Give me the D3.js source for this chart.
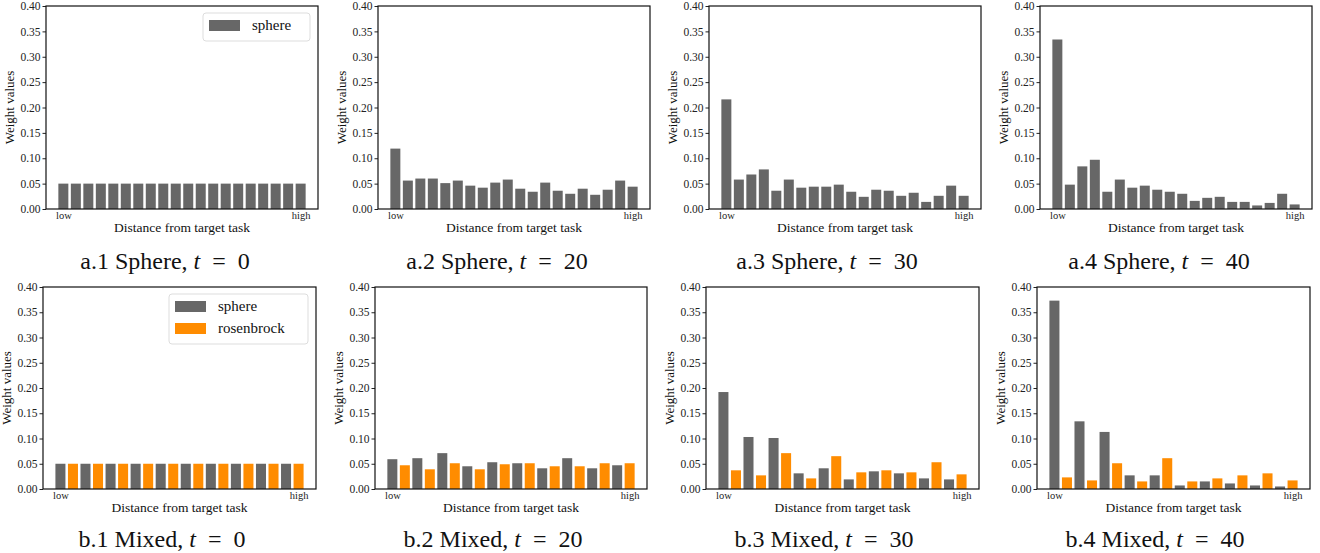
<!DOCTYPE html>
<html>
<head>
<meta charset="utf-8">
<script src="https://cdn.jsdelivr.net/npm/d3@7"></script>
<style>
  body { margin: 0; background: #fff; }
  svg { display: block; }
  svg text { font-family: "Liberation Serif", "DejaVu Serif", serif; }
  .tick text { font-size: 11.5px; fill: #222; }
  .tick line { stroke: #222; }
</style>
</head>
<body>
<svg width="1320" height="553"></svg>
<script>
  // positions along the distance axis (low -> high)
  const positions = d3.range(20);
  const yTicks = [0, 0.05, 0.10, 0.15, 0.20, 0.25, 0.30, 0.35, 0.40];

  // sphere only
  const sphereT0  = [0.05,0.05,0.05,0.05,0.05,0.05,0.05,0.05,0.05,0.05,0.05,0.05,0.05,0.05,0.05,0.05,0.05,0.05,0.05,0.05];
  const sphereT20 = [0.119,0.056,0.060,0.060,0.051,0.056,0.046,0.042,0.052,0.058,0.040,0.034,0.052,0.036,0.030,0.040,0.028,0.038,0.056,0.044];
  const sphereT30 = [0.216,0.058,0.068,0.078,0.036,0.058,0.042,0.044,0.044,0.048,0.034,0.024,0.038,0.036,0.026,0.032,0.014,0.026,0.046,0.026];
  const sphereT40 = [0.334,0.048,0.084,0.097,0.034,0.058,0.042,0.046,0.038,0.034,0.030,0.016,0.022,0.024,0.014,0.014,0.007,0.012,0.030,0.009];

  // mixed: tasks in order of distance, alternating sphere / rosenbrock
  const mixedT0  = [0.05,0.05,0.05,0.05,0.05,0.05,0.05,0.05,0.05,0.05,0.05,0.05,0.05,0.05,0.05,0.05,0.05,0.05,0.05,0.05];
  const mixedT20 = [0.059,0.047,0.061,0.039,0.071,0.051,0.045,0.039,0.053,0.049,0.051,0.051,0.041,0.045,0.061,0.045,0.041,0.051,0.047,0.051];
  const mixedT30 = [0.192,0.037,0.103,0.027,0.101,0.071,0.031,0.021,0.041,0.065,0.019,0.033,0.035,0.037,0.031,0.033,0.021,0.053,0.019,0.029];
  const mixedT40 = [0.373,0.023,0.134,0.017,0.113,0.051,0.027,0.015,0.027,0.061,0.007,0.015,0.015,0.021,0.011,0.027,0.007,0.031,0.005,0.017];
  const mixedKinds = positions.map(i => i % 2 === 0 ? 'sphere' : 'rosenbrock');

  const colors = { sphere: '#676767', rosenbrock: '#ff8c00' };

  const svg = d3.select('svg');

  const panels = [
    { values: sphereT0,  kinds: null, left: 46,   right: 318,  top: 6,   bottom: 209, cx: 165,  capY: 269, cap: ['a.1 Sphere, ', '0'],  legend: ['sphere'] },
    { values: sphereT20, kinds: null, left: 378,  right: 650,  top: 6,   bottom: 209, cx: 497,  capY: 269, cap: ['a.2 Sphere, ', '20'] },
    { values: sphereT30, kinds: null, left: 709,  right: 981,  top: 6,   bottom: 209, cx: 827,  capY: 269, cap: ['a.3 Sphere, ', '30'] },
    { values: sphereT40, kinds: null, left: 1040, right: 1312, top: 6,   bottom: 209, cx: 1159, capY: 269, cap: ['a.4 Sphere, ', '40'] },
    { values: mixedT0,  kinds: mixedKinds, left: 43,   right: 316,  top: 287, bottom: 489, cx: 162,  capY: 547, cap: ['b.1 Mixed, ', '0'], legend: ['sphere', 'rosenbrock'] },
    { values: mixedT20, kinds: mixedKinds, left: 375,  right: 647,  top: 287, bottom: 489, cx: 493,  capY: 547, cap: ['b.2 Mixed, ', '20'] },
    { values: mixedT30, kinds: mixedKinds, left: 706,  right: 979,  top: 287, bottom: 489, cx: 824,  capY: 547, cap: ['b.3 Mixed, ', '30'] },
    { values: mixedT40, kinds: mixedKinds, left: 1037, right: 1310, top: 287, bottom: 489, cx: 1155, capY: 547, cap: ['b.4 Mixed, ', '40'] }
  ];

  const drawPanel = p => {
    const w = p.right - p.left;
    const h = p.bottom - p.top;
    const n = p.values.length;
    const pad = 0.05 * (n - 1 + 0.8);

    const xScale = d3.scaleLinear()
      .domain([-0.4 - pad, n - 1 + 0.4 + pad])
      .range([0, w]);
    const yScale = d3.scaleLinear()
      .domain([0, 0.4])
      .range([h, 0]);

    const g = svg.append('g')
      .attr('transform', `translate(${p.left},${p.top})`);

    g.selectAll('rect.bar').data(p.values)
      .enter().append('rect')
        .attr('class', 'bar')
        .attr('x', (d, i) => xScale(i - 0.4))
        .attr('width', (d, i) => xScale(i + 0.4) - xScale(i - 0.4))
        .attr('y', d => yScale(d))
        .attr('height', d => h - yScale(d))
        .attr('fill', (d, i) => colors[p.kinds ? p.kinds[i] : 'sphere']);

    const yAxis = d3.axisLeft(yScale)
      .tickValues(yTicks)
      .tickFormat(d3.format('.2f'))
      .tickSize(3.5)
      .tickPadding(2);
    g.append('g').call(yAxis)
        .attr('font-family', null)
        .attr('font-size', null)
      .select('.domain').remove();

    const xAxis = d3.axisBottom(xScale)
      .tickValues([0, n - 1])
      .tickFormat(d => d === 0 ? 'low' : 'high')
      .tickSize(0)
      .tickPadding(3);
    const xg = g.append('g')
      .attr('transform', `translate(0,${h})`)
      .call(xAxis)
        .attr('font-family', null)
        .attr('font-size', null);
    xg.select('.domain').remove();
    xg.selectAll('.tick text').style('font-size', '10.5px');

    g.append('rect')
      .attr('width', w)
      .attr('height', h)
      .attr('fill', 'none')
      .attr('stroke', '#111')
      .attr('stroke-width', 1.2);

    g.append('text')
      .attr('x', w / 2)
      .attr('y', h + 23)
      .attr('text-anchor', 'middle')
      .style('font-size', '13.5px')
      .attr('fill', '#111')
      .text('Distance from target task');

    g.append('text')
      .attr('transform', `translate(${-32},${h / 2}) rotate(-90)`)
      .attr('text-anchor', 'middle')
      .style('font-size', '13px')
      .attr('fill', '#111')
      .text('Weight values');

    if (p.legend) {
      const rowH = 22;
      const boxW = p.legend.length > 1 ? 139 : 107;
      const boxH = p.legend.length * rowH + 6;
      const lg = g.append('g')
        .attr('transform', `translate(${w - boxW - 8},${7})`);
      lg.append('rect')
        .attr('width', boxW)
        .attr('height', boxH)
        .attr('rx', 3)
        .attr('fill', '#fff')
        .attr('stroke', '#ddd');
      const items = lg.selectAll('g.item').data(p.legend)
        .enter().append('g')
          .attr('transform', (d, i) => `translate(6,${7 + i * rowH})`);
      items.append('rect')
        .attr('width', 31)
        .attr('height', 11)
        .attr('fill', d => colors[d]);
      items.append('text')
        .attr('x', 43)
        .attr('y', 10)
        .style('font-size', '15px')
        .attr('fill', '#111')
        .text(d => d);
    }

    const cap = svg.append('text')
      .attr('x', p.cx)
      .attr('y', p.capY)
      .attr('text-anchor', 'middle')
      .style('font-size', '24px')
      .attr('fill', '#111');
    cap.append('tspan').text(p.cap[0]);
    cap.append('tspan').style('font-style', 'italic').text('t');
    cap.append('tspan').text('\u2002=\u2002' + p.cap[1]);
  };

  panels.forEach(drawPanel);
</script>
</body>
</html>
